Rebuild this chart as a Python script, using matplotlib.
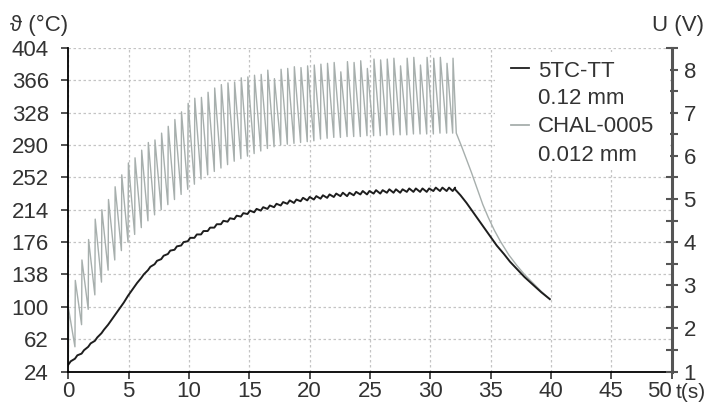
import matplotlib
matplotlib.use("Agg")
import matplotlib.pyplot as plt
from matplotlib.patches import Rectangle

plt.rcParams['font.family'] = ['Liberation Sans', 'DejaVu Sans']

# heating cycle start times (s)
cycle_t = [0.0, 0.55, 1.1, 1.65, 2.2, 2.75, 3.3, 3.85, 4.4, 4.95, 5.5, 6.05, 6.6, 7.15,
           7.7, 8.25, 8.8, 9.35, 9.9, 10.45, 11.0, 11.55, 12.1, 12.65, 13.2, 13.75, 14.3,
           14.85, 15.4, 15.95, 16.5, 17.05, 17.6, 18.15, 18.7, 19.25, 19.8, 20.35, 20.9,
           21.45, 22.0, 22.55, 23.1, 23.65, 24.2, 24.75, 25.3, 25.85, 26.4, 26.95, 27.5,
           28.05, 28.6, 29.15, 29.7, 30.25, 30.8, 31.35, 31.85]

# CHAL-0005 0.012 mm: peak and trough of each cycle (°C)
chal_peak = [97, 131, 155, 179, 203, 214, 226, 241, 255, 269, 275, 284, 293, 296, 304,
             312, 320, 329, 339, 345, 346, 352, 357, 361, 363, 364, 369, 370, 372, 373,
             378, 368, 379, 380, 382, 381, 383, 384, 385, 386, 387, 376, 388, 387, 389,
             380, 391, 390, 391, 392, 383, 392, 393, 384, 393, 392, 393, 386, 392]
chal_trough = [30, 53, 79, 97, 114, 129, 143, 155, 166, 176, 185, 193, 201, 208, 214,
               220, 226, 232, 238, 244, 250, 255, 259, 263, 267, 271, 274, 277, 280, 283,
               286, 288, 290, 291, 292, 293, 294, 295, 297, 298, 299, 299, 300, 300, 300,
               301, 301, 301, 302, 302, 302, 302, 303, 303, 303, 303, 304, 304, 304]
chal_decay_t = [32.15, 32.6, 33.0, 33.4, 33.9, 34.35, 34.8, 35.3, 35.8, 36.5, 37.2, 37.8,
                38.5, 39.2, 39.9]
chal_decay = [304, 288, 273, 258, 238, 220, 205, 190, 177, 161, 148, 138, 128, 118, 109]

# 5TC-TT 0.12 mm: low and high of the small ripple (°C)
tc_low = [32, 39, 45, 53, 60, 69, 79, 90, 101, 113, 124, 134, 143, 150, 156, 162, 167,
          172, 177, 181, 185, 189, 193, 197, 200, 203, 206, 209, 211, 213, 215, 217, 219,
          221, 222, 224, 225, 226, 227, 228, 229, 230, 230, 231, 232, 232, 233, 233, 234,
          234, 234, 235, 235, 235, 235, 236, 236, 236, 236]
tc_high = [36, 43, 49, 57, 64, 73, 83, 94, 105, 117, 128, 138, 147, 154, 160, 166, 171,
           176, 181, 185, 189, 193, 197, 201, 204, 207, 210, 213, 215, 217, 219, 221, 223,
           225, 226, 228, 229, 230, 231, 232, 233, 234, 234, 235, 236, 236, 237, 237, 238,
           238, 238, 239, 239, 239, 239, 240, 240, 240, 240]
tc_decay_t = [32.05, 32.5, 33.0, 33.5, 34.0, 34.4, 34.9, 35.5, 36.1, 36.6, 37.2, 37.8,
              38.5, 39.2, 39.9]
tc_decay = [238, 231, 222, 212, 202, 194, 184, 172, 162, 153, 144, 135, 126, 117, 109]

# build the two traces
chal_t, chal_v = [], []
for t, lo, hi in zip(cycle_t, chal_trough, chal_peak):
    chal_t += [t, t + 0.03]
    chal_v += [lo, hi]
chal_t += chal_decay_t
chal_v += chal_decay

tc_t, tc_v = [], []
for t, lo, hi in zip(cycle_t, tc_low, tc_high):
    tc_t += [t, t + 0.2]
    tc_v += [lo, hi]
tc_t += tc_decay_t
tc_v += tc_decay

txt = '#333333'
fs = 16

fig = plt.figure(figsize=(7.17, 4.05), dpi=100)
ax = fig.add_axes([68.3 / 717, 1 - 371.5 / 405, 603.4 / 717, 323.5 / 405])

ax.plot(chal_t, chal_v, color='#a7afad', lw=1.0)
ax.plot(tc_t, tc_v, color='#1e1e1e', lw=1.4)

ax.set_xlim(0, 50)
ax.set_ylim(24, 404)
ax.set_xticks(range(0, 51, 5))
ax.set_yticks(range(24, 405, 38))
ax.grid(color='#c4c4c4', linestyle=(0, (2, 2)), lw=0.9)
ax.tick_params(axis='y', direction='out', length=5, width=1.2, pad=9,
               labelsize=fs, colors=txt)
ax.tick_params(axis='x', direction='out', length=5, width=1.2, pad=2,
               labelsize=fs, colors=txt)
ax.get_xticklabels()[-1].set_ha('right')
for s in ['top', 'right']:
    ax.spines[s].set_visible(False)
ax.spines['left'].set_linewidth(1.3)
ax.spines['bottom'].set_linewidth(1.3)

# right axis: voltage
ax2 = ax.twinx()
ax2.set_ylim(1, 8.5)
ax2.set_yticks(range(1, 9))
ax2.set_yticks([1.5, 2.5, 3.5, 4.5, 5.5, 6.5, 7.5, 8.5], minor=True)
for s in ['top', 'left', 'bottom']:
    ax2.spines[s].set_visible(False)
ax2.spines['right'].set_color('#555555')
ax2.spines['right'].set_linewidth(2.2)
ax2.tick_params(axis='y', which='both', direction='inout', length=9, width=1.5,
                color='#555555', pad=4, labelsize=fs, labelcolor=txt)

# legend drawn by hand so the line sits at the first text row
ax2.add_patch(Rectangle((0.707, 0.623), 0.29, 0.365, transform=ax2.transAxes,
                        facecolor='white', edgecolor='none', zorder=3))
ax2.plot([0.733, 0.763], [0.938, 0.938], transform=ax2.transAxes,
         color='#1e1e1e', lw=1.3, zorder=4)
ax2.plot([0.733, 0.763], [0.762, 0.762], transform=ax2.transAxes,
         color='#a7afad', lw=1.3, zorder=4)
leg_rows = [('5TC-TT', 0.926), ('0.12 mm', 0.845), ('CHAL-0005', 0.756), ('0.012 mm', 0.669)]
for label, y in leg_rows:
    ax2.text(0.778, y, label, transform=ax2.transAxes, fontsize=fs, color=txt,
             va='center', ha='left', zorder=4)

fig.text(10 / 717, 1 - 25 / 405, 'ϑ (°C)', fontsize=fs, color=txt, va='center', ha='left')
fig.text(652 / 717, 1 - 25 / 405, 'U (V)', fontsize=fs, color=txt, va='center', ha='left')
fig.text(676 / 717, 1 - 392 / 405, 't(s)', fontsize=fs - 1, color=txt, va='center', ha='left')

fig.savefig('out.png', dpi=100)
